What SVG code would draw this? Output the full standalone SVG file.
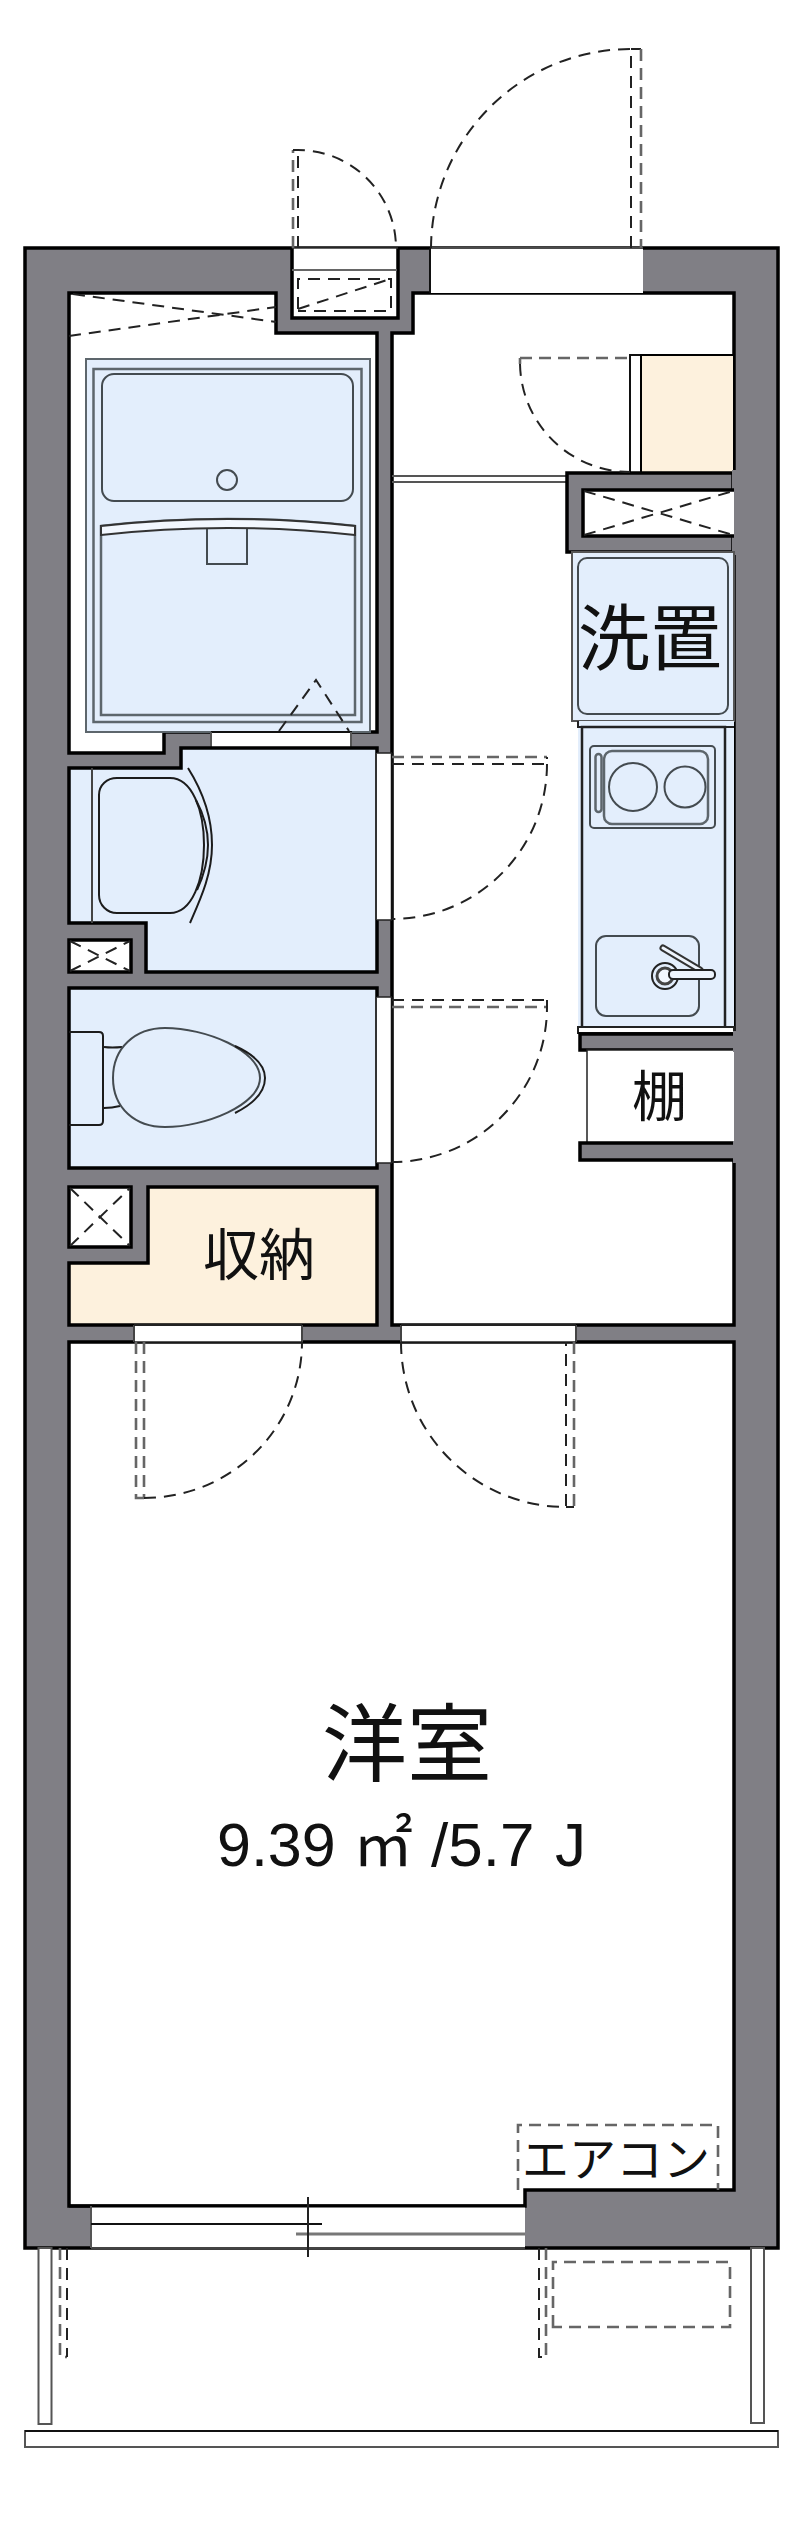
<svg xmlns="http://www.w3.org/2000/svg" width="800" height="2527" viewBox="0 0 800 2527">
<style>
.wall{fill:#807f85;stroke:#000;stroke-width:3.5;stroke-linejoin:miter}
.room{fill:#fff;stroke:#000;stroke-width:3.5}
.blue{fill:#e3eefc;stroke:#000;stroke-width:3.5}
.yel{fill:#fdf1dd;stroke:#000;stroke-width:2}
.open{fill:#fff;stroke:none}
.thin{fill:none;stroke:#1c1c1c;stroke-width:2}
.fix{fill:#e3eefc;stroke:#444b50;stroke-width:2}
.fix2{fill:none;stroke:#5d666c;stroke-width:2.5}
.d{fill:none;stroke:#222;stroke-width:2;stroke-dasharray:12 8}
.dg{fill:none;stroke:#666;stroke-width:2.6;stroke-dasharray:12 7}
.t{font-family:"Noto Sans CJK JP","Liberation Sans",sans-serif;fill:#111}
.n{font-family:"Liberation Sans",sans-serif;fill:#111}
</style>
<rect width="800" height="2527" fill="#fff"/>
<g id="building">
<rect class="wall" x="25" y="248" width="753" height="2000"/>
</g>
<g id="bath">
<path class="room" d="M69 293H276V333H377V732H164V753H69Z"/>
<rect class="open" x="211" y="731" width="141" height="18"/>
<rect x="86" y="359" width="284" height="373" fill="#e3eefc" stroke="#5d666c" stroke-width="2"/>
<rect class="fix2" x="93.500" y="369" width="268" height="353"/>
<path d="M101 715V526Q227 512 355 526V715Z" fill="#e3eefc" stroke="#5d666c" stroke-width="2.500"/>
<path d="M101 526Q227 512 355 526V535Q227 521 101 535Z" fill="#f2f7fe" stroke="#333" stroke-width="2"/>
<rect class="fix" x="102" y="374" width="251" height="127" rx="12"/>
<circle class="fix" cx="227" cy="480" r="10"/>
<path d="M207 529V564H247V529" fill="none" stroke="#444b50" stroke-width="2"/>
<path class="d" d="M279 731L316 680L349 731"/>
<path d="M211 732H352M211 748H352" stroke="#111" stroke-width="2"/>
<path d="M211 732V748M351 732V748" stroke="#555" stroke-width="2"/>
<path class="d" d="M73 294L276 322M69 336L276 307"/>
</g>
<g id="entry-box">
<path d="M292 248V318H398V248" fill="#fff" stroke="#000" stroke-width="3.500"/>
<path d="M292 248H398" stroke="#333" stroke-width="1.500"/>
<path d="M292 270H397" stroke="#666" stroke-width="2"/>
</g>
<g id="washroom">
<path class="blue" d="M69 768H181V748H377V972H146V923H69Z"/>
<path d="M92 768V923" stroke="#444" stroke-width="2"/>
<path class="thin" d="M188 768C205 795 212 820 212 845C212 875 200 900 190 923"/>
<path class="thin" d="M99 795C99 785 107 778 117 778H170C192 778 204 810 204 845C204 880 192 913 170 913H117C107 913 99 905 99 895Z"/>
<path class="thin" d="M196 800C204 815 208 830 208 845C208 860 204 875 197 890" stroke-width="1.200"/>
</g>
<g id="shaft-small"><rect class="room" x="69" y="940" width="62" height="32"/><path class="d" stroke-dasharray="8 6" d="M70 941L130 971M70 971L130 941"/></g>
<g id="toilet">
<rect class="blue" x="69" y="988" width="308" height="180"/>
<path class="thin" d="M69 1032H99Q103 1032 103 1036V1121Q103 1125 99 1125H69"/>
<path class="thin" d="M104 1047Q112 1048 122 1047M104 1108Q112 1108 120 1106"/>
<path class="fix" d="M113 1078C113 1048 135 1028 165 1028C205 1028 260 1050 260 1078C260 1105 205 1127 165 1127C135 1127 113 1108 113 1078Z"/>
<path class="thin" d="M235 1046C255 1055 265 1066 265 1078C265 1092 255 1103 235 1113" stroke-width="1.500"/>
</g>
<g id="shaft-storage"><rect class="room" x="69" y="1187" width="62" height="60"/><path class="d" stroke-dasharray="11 8" d="M70 1188L130 1246M70 1246L130 1188"/></g>
<g id="storage">
<path class="blue" style="fill:#fdf1dd" d="M148 1187H377V1325H69V1263H148Z"/>
<text class="t" x="203" y="1275" font-size="56">収納</text>
</g>
<g id="hall">
<path class="room" d="M392 333H413V293H734V1325H392Z"/>
<rect class="open" x="430" y="247" width="213" height="46"/>
<path d="M430 248H643" stroke="#111" stroke-width="1.500"/>
<path d="M430 248V293" stroke="#111" stroke-width="2"/>
<rect class="open" x="376" y="753" width="16" height="167"/>
<path d="M376 753V920" stroke="#333" stroke-width="2"/>
<rect class="open" x="376" y="997" width="16" height="166"/>
<path d="M376 997V1163" stroke="#333" stroke-width="2"/>
<path d="M392 753V920M392 997V1163" stroke="#111" stroke-width="2.500"/>
<path d="M377 753H392M377 920H392M377 997H392M377 1163H392" stroke="#222" stroke-width="1.500"/>
<path d="M392 476H567M392 482H567" stroke="#555" stroke-width="2"/>
</g>
<g id="closet">
<rect x="630" y="355" width="104" height="118" fill="#fff" stroke="#111" stroke-width="2"/>
<rect class="yel" x="641" y="355" width="93" height="118"/>
</g>
<g id="shaft-right">
<path class="wall" d="M733 473H567V552H733Z" stroke-linejoin="miter"/>
<rect x="732" y="470" width="10" height="85" fill="#807f85"/>
<path d="M734 490H583V536H734" fill="#fff" stroke="#000" stroke-width="3.500"/>
<rect x="732" y="492" width="2" height="42" fill="#fff"/>
<path class="d" d="M584 491L733 535M584 535L733 491"/>
</g>
<g id="washer">
<rect x="572" y="552" width="162" height="169" fill="#e3eefc" stroke="#555" stroke-width="2"/>
<rect class="fix" x="578" y="558" width="150" height="156" rx="9"/>
<text class="t" x="578" y="664" font-size="72">洗置</text>
</g>
<g id="kitchen">
<rect x="578" y="721" width="156" height="312" fill="#e3eefc" stroke="none"/>
<path d="M582 727V1028H725V727Z" fill="#e3eefc" stroke="#222" stroke-width="2.500"/>
<path d="M578 721V727H734M725 727V1028" fill="none" stroke="#222" stroke-width="2"/>
<rect x="578" y="1027" width="156" height="6" fill="#fff" stroke="#222" stroke-width="2"/>
<rect class="fix" x="590" y="746" width="125" height="82" rx="4"/>
<rect class="fix2" x="604" y="751" width="104" height="73" rx="8"/>
<rect class="fix2" x="595.500" y="754" width="6" height="58" rx="3"/>
<circle class="fix" cx="633" cy="787" r="24"/>
<circle class="fix" cx="685" cy="787" r="20.500"/>
<rect class="fix" x="596" y="936" width="103" height="80" rx="10"/>
<path d="M663 948L700 970" stroke="#333" stroke-width="7" stroke-linecap="round"/>
<path d="M663 948L700 970" stroke="#eef4fc" stroke-width="3" stroke-linecap="round"/>
<circle cx="665" cy="976" r="13" fill="#e3eefc" stroke="#222" stroke-width="2"/>
<circle cx="665" cy="976" r="8" fill="#f2f7fe" stroke="#444" stroke-width="3"/>
<rect x="669" y="970" width="46" height="9" rx="4" fill="#eef4fc" stroke="#222" stroke-width="2"/>
</g>
<g id="shelf">
<path class="wall" d="M736 1034H580V1050H736Z" style="stroke-width:3.500"/>
<rect x="587" y="1050" width="147" height="93" fill="#fff" stroke="#222" stroke-width="1.500"/>
<path class="wall" d="M736 1143H580V1160H736Z"/>
<rect x="733" y="1031" width="6" height="132" fill="#807f85"/>
<rect x="733" y="1052" width="1" height="89" fill="#fff"/>
<text class="t" x="632" y="1116" font-size="55">棚</text>
</g>
<g id="room">
<path class="room" d="M69 1342H734V2190H525V2206H69Z"/>
<rect class="open" x="134" y="1325" width="168" height="17"/>
<rect class="open" x="401" y="1325" width="175" height="17"/>
<path d="M134 1325V1342M302 1325V1342M401 1325V1342M576 1325V1342" stroke="#444" stroke-width="2"/>
<path d="M134 1325H302M401 1325H576" stroke="#222" stroke-width="2"/>
<path d="M134 1342H302M401 1342H576" stroke="#222" stroke-width="1.500"/>
<text class="t" x="322" y="1775" font-size="85">洋室</text>
<text class="n" x="217" y="1866" font-size="61">9.39</text>
<text class="t" x="353" y="1866" font-size="60">㎡</text>
<text class="n" x="431" y="1866" font-size="62">/5.7</text>
<text class="n" x="555" y="1866" font-size="62">J</text>
</g>
<g id="aircon">
<path class="dg" d="M518 2190V2125H718V2190"/>
<text class="t" x="522" y="2176" font-size="47">エアコン</text>
</g>
<g id="window">
<rect x="91" y="2206" width="434" height="42" fill="#fff"/>
<path d="M69 2206H525" stroke="#000" stroke-width="3"/>
<path d="M91 2248H525" stroke="#444" stroke-width="2"/>
<path d="M91 2206V2248" stroke="#555" stroke-width="2"/>
<path d="M91 2224H322" stroke="#111" stroke-width="2"/>
<path d="M296 2234H525" stroke="#777" stroke-width="3"/>
<path d="M308 2197V2257" stroke="#222" stroke-width="2"/>
</g>
<g id="balcony">
<rect x="38.500" y="2248" width="13" height="176" fill="#fff" stroke="#555" stroke-width="2"/>
<rect x="751" y="2248" width="13" height="175" fill="#fff" stroke="#555" stroke-width="2"/>
<rect x="25" y="2431" width="753" height="16" fill="#fff" stroke="#555" stroke-width="2"/>
<path d="M25 2431H778" stroke="#111" stroke-width="2"/>
<path class="dg" d="M553 2327V2262H730V2327Z"/>
</g>
<g id="connectors">
<path class="dg" d="M293 248V150"/>
<path class="d" d="M298 248V150M293 150H298A98 98 0 0 1 396 248"/>
<path class="d" d="M298 309V279H391V311H298M298 309L390 279"/>
<path class="d" d="M431 248A200 200 0 0 1 631 49V248M631 49H641"/>
<path class="dg" d="M641 49V248"/>
<path class="dg" d="M520 358H630M520 364V358"/>
<path class="d" d="M520 364A110 110 0 0 0 630 472"/>
<path class="dg" d="M392 757H547"/>
<path class="d" d="M392 764H547V757M547 764A155 155 0 0 1 392 919"/>
<path class="d" d="M392 1000H547"/>
<path class="dg" d="M392 1007H547"/>
<path class="d" d="M547 1000V1007A155 155 0 0 1 392 1162"/>
<path class="dg" d="M136 1342V1498H144"/>
<path class="dg" d="M144 1342V1498"/>
<path class="d" d="M144 1498A158 156 0 0 0 302 1342"/>
<path class="d" d="M401 1342A165 165 0 0 0 566 1507V1342M566 1507H574"/>
<path class="dg" d="M574 1342V1507"/>
<path class="dg" d="M60 2248V2357H67"/>
<path class="d" d="M67 2248V2357"/>
<path class="d" d="M539 2248V2357H546"/>
<path class="dg" d="M546 2248V2357"/>
</g>
</svg>
